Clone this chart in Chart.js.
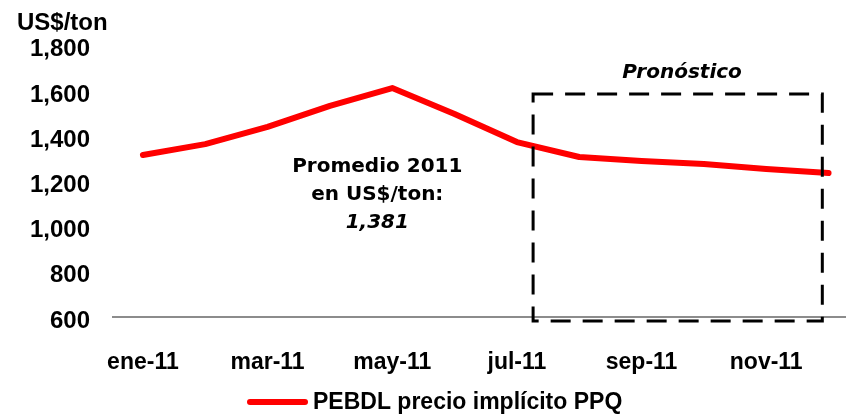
<!DOCTYPE html>
<html>
<head>
<meta charset="utf-8">
<script src="https://cdn.jsdelivr.net/npm/chart.js@4.4.0/dist/chart.umd.min.js"></script>
<style>
  html, body { margin: 0; padding: 0; background: #fff; }
  #wrap { width: 846px; height: 416px; }
</style>
</head>
<body>
<div id="wrap"><canvas id="chart" width="846" height="416"></canvas></div>
<script>
// 月ラベル (ene-11 .. dic-11)
const months = ['ene-11', 'feb-11', 'mar-11', 'abr-11', 'may-11', 'jun-11',
                'jul-11', 'ago-11', 'sep-11', 'oct-11', 'nov-11', 'dic-11'];
// PEBDL precio implícito PPQ (US$/ton)
const prices = [1317, 1365, 1441, 1534, 1613, 1498, 1374, 1308, 1290, 1277, 1255, 1237];
// 表示する目盛り (1ヶ月おき)
const tickMonths = [0, 2, 4, 6, 8, 10];
const yTicks = [600, 800, 1000, 1200, 1400, 1600, 1800];

const seriesName = 'PEBDL precio implícito PPQ';
const avgLines = ['Promedio 2011', 'en US$/ton:', '1,381'];
const forecastLabel = 'Pronóstico';

// 注釈の位置 (データ座標)
const forecastBox = { x0: 6.26, x1: 10.9, y0: 582, y1: 1587 };
const avgPos = { x: 3.76, y: 1264 };
const forecastLabelPos = { x: 8.65, y: 1680 };

const arial = "'Liberation Sans', Arial, sans-serif";
const deja = "'DejaVu Sans', sans-serif";

// 注釈と凡例を描くプラグイン
const extras = {
    id: 'extras',
    afterDatasetsDraw(chart) {
        const { ctx, scales: { x, y } } = chart;
        ctx.save();

        // 予測の破線ボックス
        ctx.strokeStyle = '#000';
        ctx.lineWidth = 3;
        ctx.setLineDash([20, 12]);
        const bx0 = x.getPixelForValue(forecastBox.x0);
        const bx1 = x.getPixelForValue(forecastBox.x1);
        const by0 = y.getPixelForValue(forecastBox.y0);
        const by1 = y.getPixelForValue(forecastBox.y1);
        ctx.strokeRect(bx0, by1, bx1 - bx0, by0 - by1);
        ctx.setLineDash([]);

        // テキスト
        ctx.fillStyle = '#000';
        ctx.textAlign = 'center';
        ctx.textBaseline = 'middle';
        ctx.font = 'italic bold 20px ' + deja;
        ctx.fillText(forecastLabel, x.getPixelForValue(forecastLabelPos.x), y.getPixelForValue(forecastLabelPos.y));

        const ax = x.getPixelForValue(avgPos.x);
        const ay = y.getPixelForValue(avgPos.y);
        avgLines.forEach((t, i) => {
            ctx.font = (i === 2 ? 'italic ' : '') + 'bold 20px ' + deja;
            ctx.fillText(t, ax, ay + i * 28);
        });

        // 凡例
        const ds = chart.data.datasets[0];
        ctx.strokeStyle = ds.borderColor;
        ctx.lineWidth = 6;
        ctx.lineCap = 'round';
        ctx.beginPath();
        ctx.moveTo(250, 402);
        ctx.lineTo(305, 402);
        ctx.stroke();
        ctx.textAlign = 'left';
        ctx.font = 'bold 23px ' + arial;
        ctx.fillText(ds.label, 313, 403);

        ctx.restore();
    }
};

new Chart(document.getElementById('chart'), {
    type: 'line',
    data: {
        datasets: [{
            label: seriesName,
            data: prices.map((v, i) => ({ x: i, y: v })),
            borderColor: '#ff0000',
            backgroundColor: '#ff0000',
            borderWidth: 6,
            borderCapStyle: 'round',
            borderJoinStyle: 'round',
            pointRadius: 0,
            tension: 0
        }]
    },
    options: {
        responsive: false,
        animation: false,
        layout: { padding: { left: 17, right: 0, top: 0, bottom: 41 } },
        plugins: {
            legend: { display: false },
            tooltip: { enabled: false },
            title: {
                display: true,
                text: 'US$/ton',
                align: 'start',
                color: '#000',
                font: { family: arial, size: 24, weight: 'bold' },
                padding: { top: 9, bottom: 8 }
            }
        },
        scales: {
            x: {
                type: 'linear',
                min: -0.48,
                max: 11.28,
                grid: { display: false },
                border: { display: true, color: '#8c8c8c', width: 2 },
                afterBuildTicks: scale => { scale.ticks = tickMonths.map(v => ({ value: v })); },
                afterFit: scale => { scale.height = 58; },
                ticks: {
                    padding: 24,
                    color: '#000',
                    font: { family: arial, size: 23, weight: 'bold' },
                    maxRotation: 0,
                    callback: v => months[v]
                }
            },
            y: {
                min: 600,
                max: 1800,
                grid: { display: false },
                border: { display: false },
                afterBuildTicks: scale => { scale.ticks = yTicks.map(v => ({ value: v })); },
                afterFit: scale => { scale.width = 96; },
                ticks: {
                    padding: 15,
                    labelOffset: 4,
                    color: '#000',
                    font: { family: arial, size: 24, weight: 'bold' },
                    callback: v => v.toLocaleString('en-US')
                }
            }
        }
    },
    plugins: [extras]
});
</script>
</body>
</html>
